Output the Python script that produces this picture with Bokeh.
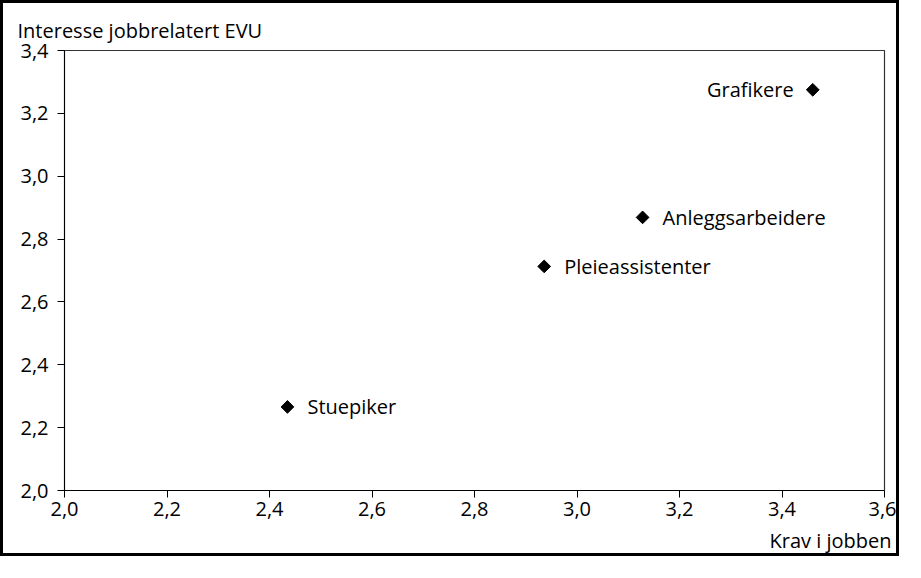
from bokeh.plotting import figure
from bokeh.models import Range1d, FixedTicker, CustomJSTickFormatter, ColumnDataSource, Title
from bokeh.embed import file_html
from bokeh.resources import INLINE
from bokeh.core.properties import value

# Data
names = ["Grafikere", "Anleggsarbeidere", "Pleieassistenter", "Stuepiker"]
krav = [3.46, 3.128, 2.936, 2.435]
interesse = [3.275, 2.869, 2.713, 2.266]
label_align = ["right", "left", "left", "left"]
x_ticks = [2.0, 2.2, 2.4, 2.6, 2.8, 3.0, 3.2, 3.4, 3.6]
y_ticks = [2.0, 2.2, 2.4, 2.6, 2.8, 3.0, 3.2, 3.4]
x_title = "Krav i jobben"
y_title = "Interesse jobbrelatert EVU"

FONT = "Open Sans"
FS = "20px"

p = figure(width=899, height=556, output_backend="svg", toolbar_location=None,
           x_range=Range1d(2.0, 3.6), y_range=Range1d(2.0, 3.4),
           min_border_left=61, min_border_top=47, min_border_right=18, min_border_bottom=69)
p.styles = {"border": "3px solid black"}
p.xgrid.visible = False
p.ygrid.visible = False
p.outline_line_color = "#333333"
p.outline_line_width = 1.2

fmt = CustomJSTickFormatter(code="return tick.toFixed(1).replace('.', ',');")
for ax, ticks in ((p.xaxis[0], x_ticks), (p.yaxis[0], y_ticks)):
    ax.ticker = FixedTicker(ticks=ticks)
    ax.formatter = fmt
    ax.minor_tick_line_color = None
    ax.major_tick_in = 0
    ax.major_tick_out = 7
    ax.axis_line_color = "black"
    ax.major_tick_line_color = "black"
    ax.major_label_text_font = FONT
    ax.major_label_text_font_size = FS
    ax.major_label_text_color = "black"
p.xaxis.major_label_standoff = 4
p.yaxis.major_label_standoff = 9

src = ColumnDataSource(dict(x=krav, y=interesse, name=names, align=label_align,
                            xoff=[-19 if a == "right" else 20 for a in label_align]))
p.scatter("x", "y", source=src, marker="square", angle=0.785398, size=9,
          fill_color="black", line_color="black")
p.text("x", "y", text="name", source=src, x_offset="xoff", text_align="align",
       text_baseline="middle", text_font=value(FONT), text_font_size=FS, text_color="black")

p.add_layout(Title(text=y_title, align="left", offset=-47, text_font=FONT,
                   text_font_size=FS, text_font_style="normal", text_color="black",
                   standoff=14), "above")
p.add_layout(Title(text=x_title, align="right", offset=-7, text_font=FONT,
                   text_font_size=FS, text_font_style="normal", text_color="black",
                   standoff=12), "below")

open("out.html", "w").write(file_html(p, INLINE))
